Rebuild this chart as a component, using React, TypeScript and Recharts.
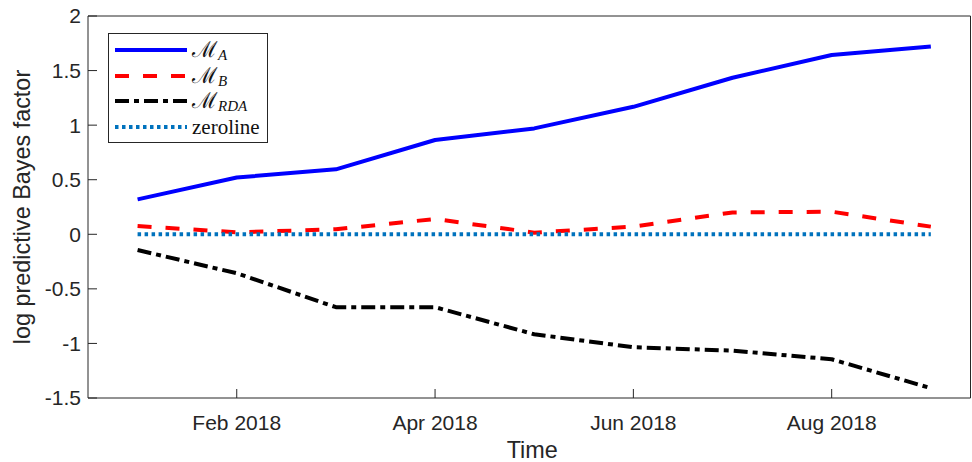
import React from 'react';
import { LineChart, Line, XAxis, YAxis, Legend } from 'recharts';

// months since Dec 2017 (1 = Jan 2018)
const monthIndex = [1, 2, 3, 4, 5, 6, 7, 8, 9];
const modelA = [0.32, 0.52, 0.595, 0.864, 0.97, 1.168, 1.434, 1.642, 1.72];
const modelB = [0.076, 0.018, 0.046, 0.14, 0.015, 0.07, 0.2, 0.207, 0.07];
const modelRDA = [-0.144, -0.357, -0.668, -0.668, -0.916, -1.035, -1.066, -1.145, -1.41];
const zeroline = [0, 0, 0, 0, 0, 0, 0, 0, 0];

const xTicks = [2, 4, 6, 8];
const xTickLabels = ['Feb 2018', 'Apr 2018', 'Jun 2018', 'Aug 2018'];
const yTicks = [-1.5, -1, -0.5, 0, 0.5, 1, 1.5, 2];

const data = monthIndex.map((t, i) => ({
  t,
  a: modelA[i],
  b: modelB[i],
  rda: modelRDA[i],
  zero: zeroline[i],
}));

const AXIS = '#262626';
const SANS = '"Liberation Sans", Arial, Helvetica, sans-serif';
const SERIF = '"Liberation Serif", "DejaVu Serif", serif';

const series = [
  { key: 'a', sub: 'A', color: '#0000ff', dash: undefined as string | undefined },
  { key: 'b', sub: 'B', color: '#ff0000', dash: '14 14' },
  { key: 'rda', sub: 'RDA', color: '#000000', dash: '14 5 5 5' },
  { key: 'zero', sub: '', color: '#0072bd', dash: '3.5 3.5' },
];

const LegendBox = () => (
  <div
    style={{
      position: 'relative',
      width: 160,
      height: 110,
      border: `1px solid ${AXIS}`,
      background: '#fff',
      boxSizing: 'border-box',
    }}
  >
    {series.map((s, i) => (
      <div
        key={s.key}
        style={{
          position: 'absolute',
          left: 0,
          top: 3 + i * 25.7,
          height: 25.7,
          width: '100%',
          display: 'flex',
          alignItems: 'center',
        }}
      >
        <svg width={72} height={6} style={{ marginLeft: 6, display: 'block' }}>
          <line x1={0} y1={3} x2={72} y2={3} stroke={s.color} strokeWidth={4} strokeDasharray={s.dash} />
        </svg>
        <span style={{ marginLeft: 5, fontFamily: SERIF, fontSize: 21, color: '#111', lineHeight: '20px', whiteSpace: 'nowrap' }}>
          {s.sub ? (
            <>
              <span style={{ fontFamily: '"DejaVu Serif", serif', fontSize: 22, lineHeight: '20px' }}>ℳ</span>
              <i style={{ fontSize: 15, lineHeight: '14px', position: 'relative', top: 3, marginLeft: 1 }}>{s.sub}</i>
            </>
          ) : (
            'zeroline'
          )}
        </span>
      </div>
    ))}
  </div>
);

export default function App() {
  return (
    <div style={{ position: 'absolute', left: 0, top: 0, background: '#fff' }}>
      <LineChart width={972} height={462} data={data} margin={{ top: 15, right: 0.5, bottom: 14, left: 28 }}>
        <XAxis
          dataKey="t"
          type="number"
          domain={[0.5, 9.4]}
          ticks={xTicks}
          tickFormatter={(v: number) => xTickLabels[xTicks.indexOf(v)] ?? ''}
          height={50}
          tickSize={-9}
          tickMargin={26}
          stroke={AXIS}
          tick={{ fill: AXIS, fontSize: 21, fontFamily: SANS }}
          allowDataOverflow
          label={{
            content: ({ viewBox }: any) => (
              <text
                x={viewBox.x + viewBox.width / 2 + 3}
                y={viewBox.y + 60}
                textAnchor="middle"
                fill={AXIS}
                fontSize={23.4}
                fontFamily={SANS}
              >
                Time
              </text>
            ),
          }}
        />
        <XAxis
          xAxisId="top"
          orientation="top"
          type="number"
          domain={[0.5, 9.4]}
          ticks={xTicks}
          height={1}
          tickSize={-9}
          tick={false}
          stroke={AXIS}
          allowDataOverflow
        />
        <YAxis
          type="number"
          domain={[-1.5, 2]}
          ticks={yTicks}
          width={60}
          tickSize={-9}
          tickMargin={16}
          stroke={AXIS}
          tick={{ fill: AXIS, fontSize: 21, fontFamily: SANS }}
          allowDataOverflow
          label={{
            content: ({ viewBox }: any) => {
              const cx = viewBox.x + 2;
              const cy = viewBox.y + viewBox.height / 2;
              return (
                <text
                  x={cx}
                  y={cy}
                  transform={`rotate(-90 ${cx} ${cy})`}
                  textAnchor="middle"
                  fill={AXIS}
                  fontSize={23.4}
                  fontFamily={SANS}
                >
                  log predictive Bayes factor
                </text>
              );
            },
          }}
        />
        <YAxis
          yAxisId="right"
          orientation="right"
          type="number"
          domain={[-1.5, 2]}
          ticks={yTicks}
          width={1}
          tickSize={-9}
          tick={false}
          stroke={AXIS}
          allowDataOverflow
        />
        <Legend
          layout="vertical"
          align="center"
          verticalAlign="middle"
          content={() => <LegendBox />}
          wrapperStyle={{ position: 'absolute', left: 108, top: 33, width: 160, height: 110 }}
        />
        {series.map((s) => (
          <Line
            key={s.key}
            dataKey={s.key}
            type="linear"
            stroke={s.color}
            strokeWidth={4}
            strokeDasharray={s.dash}
            strokeLinejoin="round"
            dot={false}
            activeDot={false}
            isAnimationActive={false}
          />
        ))}
      </LineChart>
    </div>
  );
}
